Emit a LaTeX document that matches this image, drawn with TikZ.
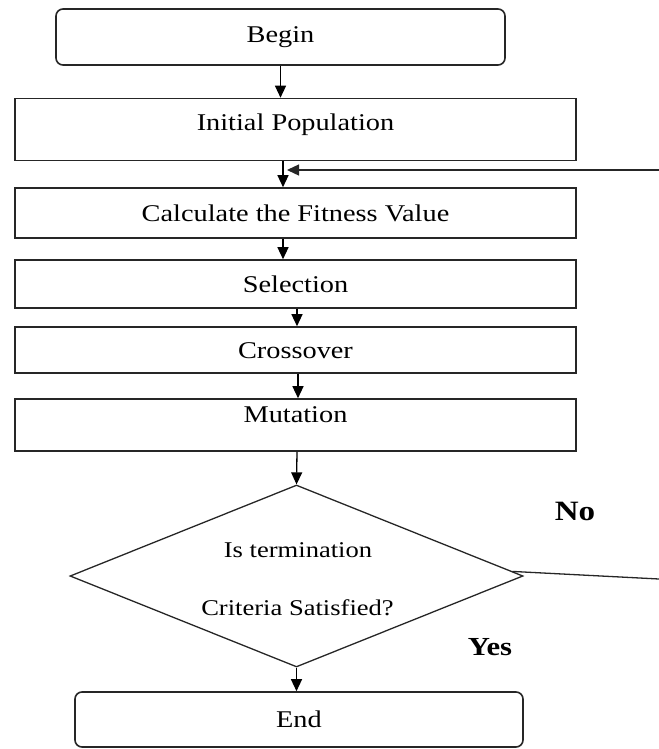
\documentclass[tikz,border=0pt]{standalone}
\usepackage{fontspec}
\setmainfont{Liberation Serif}[FakeStretch=1.18]
\usetikzlibrary{shapes.geometric,arrows.meta,calc}
\begin{document}
\begin{tikzpicture}[x=1bp,y=-1bp,
  flowbox/.style={draw=black!85, line width=1.6bp, rectangle, minimum width=561bp,
    inner sep=0pt, font=\fontsize{24bp}{28bp}\selectfont, text height=16bp, text depth=0bp},
  terminal/.style={flowbox, rounded corners=7bp},
  arr/.style={-{Triangle[length=12bp,width=11bp]}, line width=1.3bp, draw=black},
  link/.style={line width=1.3bp, draw=black!85},
  qtext/.style={font=\fontsize{22.5bp}{26bp}\selectfont, inner sep=0pt, anchor=base},
  answer/.style={font=\bfseries\fontsize{26bp}{30bp}\selectfont, inner sep=0pt, text height=17bp, text depth=0bp}
]
\useasboundingbox (0,0) rectangle (659,749);

% process boxes
\node[terminal, minimum width=449bp, minimum height=56bp, text depth=4bp] (begin) at (280.5,37) {Begin};
\node[flowbox, minimum height=62bp, text depth=15bp] (init) at (295.5,129.5) {Initial Population};
\node[flowbox, minimum height=50bp] (calc) at (295.5,213) {Calculate the Fitness Value};
\node[flowbox, minimum height=48bp] (sel) at (295.5,284) {Selection};
\node[flowbox, minimum height=46bp] (cross) at (295.5,350) {Crossover};
\node[flowbox, minimum height=52bp, text depth=21bp] (mut) at (295.5,425) {Mutation};

% decision
\node[diamond, draw=black!85, line width=1.3bp, minimum width=453bp, minimum height=182bp, inner sep=0pt] (dec) at (296.5,576) {};
\node[qtext] (q1) at (298,557) {Is termination};
\node[qtext] (q2) at (297.5,615) {Criteria Satisfied?};

\node[terminal, minimum width=448bp, minimum height=55bp] (end) at (299,719.5) {End};

% answers
\node[answer, font=\bfseries\fontsize{28bp}{32bp}\selectfont] (no) at (575,512) {No};
\node[answer] (yes) at (490,647) {Yes};

% main flow
\draw[arr] (begin.south) -- (begin.south |- init.north);
\draw[arr] ([xshift=-12.5bp]init.south) -- ([xshift=-12.5bp]calc.north);
\draw[arr] ([xshift=-12.5bp]calc.south) -- ([xshift=-12.5bp]sel.north);
\draw[arr] ([xshift=1.5bp]sel.south) -- ([xshift=1.5bp]cross.north);
\draw[arr] ([xshift=2.5bp]cross.south) -- ([xshift=2.5bp]mut.north);
\draw[arr] ([xshift=1.5bp]mut.south) -- (dec.north);
\draw[arr] (dec.south) -- (dec.south |- end.north);

% loop back on "No"
\coordinate (noR) at (659,579);
\coordinate (fbR) at (659,170);
\coordinate (fbIn) at (287,170);
\draw[link] ($(dec.east)!0.05!(dec.north)$) -- (noR);
\draw[arr, draw=black!85] (fbR) -- (fbIn);
\end{tikzpicture}
\end{document}
